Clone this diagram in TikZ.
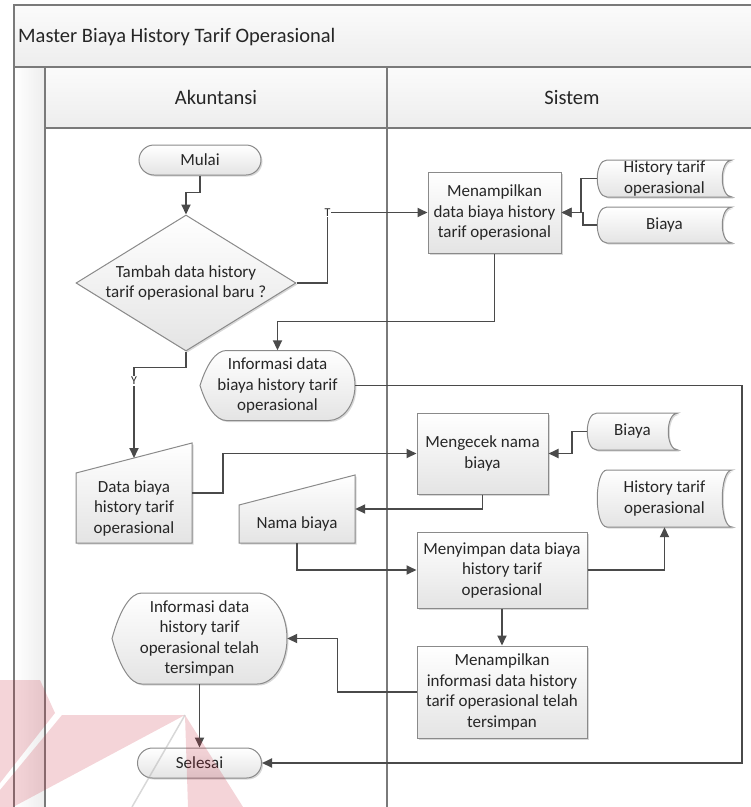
\documentclass[tikz,border=0pt]{standalone}
\usepackage{fontspec}
\setmainfont{Carlito}
\usetikzlibrary{shapes.geometric,shapes.misc,arrows.meta,calc,shadows,backgrounds}

\definecolor{laneline}{HTML}{7A7A7A}
\definecolor{edgegray}{HTML}{8A8A8A}
\definecolor{flowgray}{HTML}{4A4A4A}
\definecolor{fillbot}{HTML}{E4E4E4}
\definecolor{markred}{HTML}{C8283C}
\definecolor{inkgray}{HTML}{262626}

\pgfdeclarelayer{lanes}
\pgfsetlayers{lanes,background,main}

\tikzset{
  txt/.style={font=\fontsize{17}{20.5}\selectfont, text=inkgray, align=center, inner sep=0pt},
  headtxt/.style={font=\fontsize{20.5}{24}\selectfont, text=inkgray, inner sep=0pt},
  lbl/.style={font=\fontsize{12}{13}\selectfont, text=inkgray, fill=white, inner sep=1pt},
  dshadow/.style={drop shadow={shadow xshift=1.5pt, shadow yshift=-1.5pt, opacity=0.22, fill=black!70}},
  shapefill/.style={draw=edgegray, line width=1pt, top color=white, bottom color=fillbot},
  proc/.style={txt, shapefill, dshadow, rectangle},
  term/.style={txt, shapefill, dshadow, rounded rectangle},
  dec/.style={shapefill, dshadow, diamond, inner sep=0pt},
  hold/.style={txt, rectangle},
  arr/.style={draw=flowgray, line width=1.8pt, -{Triangle[length=10pt,width=9pt]}},
  lane/.style={draw=laneline, line width=1.4pt},
}

% stored-data outline: bulging left side, hollow right side
\newcommand\storeshape[3]{%
  \path[shapefill,dshadow]
    ([shift={(-#2/2+10,-#3/2)}]#1.center) -- ([shift={(#2/2,-#3/2)}]#1.center)
    .. controls ([shift={(#2/2-13,-#3/2)}]#1.center) and ([shift={(#2/2-13,#3/2)}]#1.center)
    .. ([shift={(#2/2,#3/2)}]#1.center) -- ([shift={(-#2/2+10,#3/2)}]#1.center)
    .. controls ([shift={(-#2/2-3,#3/2)}]#1.center) and ([shift={(-#2/2-3,-#3/2)}]#1.center)
    .. cycle;}

% display outline: pointed left end, rounded right end
\newcommand\dispshape[3]{%
  \pgfmathsetmacro\shw{#2/2}\pgfmathsetmacro\shh{#3/2}\pgfmathsetmacro\sbb{0.17*#2}%
  \path[shapefill,dshadow]
    ([shift={(-\shw,0)}]#1.center)
    .. controls ([shift={(-\shw+0.25*\sbb,-0.6*\shh)}]#1.center) and ([shift={(-\shw+0.6*\sbb,-\shh)}]#1.center)
    .. ([shift={(-\shw+\sbb,-\shh)}]#1.center) -- ([shift={(\shw-\sbb,-\shh)}]#1.center)
    .. controls ([shift={(\shw-0.45*\sbb,-\shh)}]#1.center) and ([shift={(\shw,-0.55*\shh)}]#1.center)
    .. ([shift={(\shw,0)}]#1.center)
    .. controls ([shift={(\shw,0.55*\shh)}]#1.center) and ([shift={(\shw-0.45*\sbb,\shh)}]#1.center)
    .. ([shift={(\shw-\sbb,\shh)}]#1.center) -- ([shift={(-\shw+\sbb,\shh)}]#1.center)
    .. controls ([shift={(-\shw+0.6*\sbb,\shh)}]#1.center) and ([shift={(-\shw+0.25*\sbb,0.6*\shh)}]#1.center)
    .. cycle;}

% manual-input outline: top edge rising to the right
\newcommand\manshape[4]{%
  \path[shapefill,dshadow]
    ([shift={(-#2/2,-#3/2+#4)}]#1.center) coordinate (#1-tl)
    -- ([shift={(#2/2,-#3/2)}]#1.center) coordinate (#1-tr)
    -- ([shift={(#2/2,#3/2)}]#1.center)
    -- ([shift={(-#2/2,#3/2)}]#1.center) -- cycle;}

\begin{document}
\begin{tikzpicture}[x=1pt,y=-1pt]
\useasboundingbox (0,0) rectangle (751,807);

% swimlane frame
\begin{pgfonlayer}{lanes}
  \fill[top color=gray!3, bottom color=gray!14] (14,5) rectangle (751,67);
  \fill[top color=gray!3, bottom color=gray!14] (45,67) rectangle (751,128);
  \fill[left color=white, right color=gray!14] (14,67) rectangle (45,807);
  \draw[lane] (14,807) -- (14,5) -- (751,5);
  \draw[lane] (14,67) -- (751,67);
  \draw[lane] (45,128) -- (751,128);
  \draw[lane] (45,67) -- (45,807);
  \draw[lane] (387,67) -- (387,807);
\end{pgfonlayer}

\node[headtxt, anchor=west] (title) at (18,37) {Master Biaya History Tarif Operasional};
\node[headtxt] (laneA) at (216,97.5) {Akuntansi};
\node[headtxt] (laneS) at (572,97.5) {Sistem};

% nodes
\node[term, minimum width=122, minimum height=30] (start) at (200,160) {Mulai};
\node[dec, minimum width=220, minimum height=136] (dec) at (186,283) {};
\node[txt] (dect) at (186,283) {Tambah data history\\tarif operasional baru ?};

\node[proc, minimum width=133, minimum height=81] (p1) at (494.5,212.5)
  {Menampilkan\\data biaya history\\tarif operasional};
\node[hold, minimum width=135, minimum height=37] (s1) at (664.5,178.5) {History tarif\\operasional};
\node[hold, minimum width=135, minimum height=36] (s2) at (664.5,225) {Biaya};

\node[hold, minimum width=155, minimum height=70] (i1) at (277.5,385.5)
  {Informasi data\\biaya history tarif\\operasional};

\node[hold, minimum width=116, minimum height=100] (db) at (134,493) {};
\node[txt] (dbt) at (134,508) {Data biaya\\history tarif\\operasional};

\node[proc, minimum width=131, minimum height=81] (p2) at (482.5,453.5) {Mengecek nama\\biaya};
\node[hold, minimum width=91, minimum height=37] (s3) at (632.5,431.5) {Biaya};

\node[hold, minimum width=116, minimum height=68] (nb) at (297,509) {};
\node[txt] (nbt) at (297,524) {Nama biaya};

\node[proc, minimum width=170, minimum height=76] (p3) at (502,570)
  {Menyimpan data biaya\\history tarif\\operasional};
\node[hold, minimum width=135, minimum height=57] (s4) at (664.5,498.5) {History tarif\\operasional};

\node[proc, minimum width=170, minimum height=92] (p4) at (502,692)
  {Menampilkan\\informasi data history\\tarif operasional telah\\tersimpan};

\node[hold, minimum width=175, minimum height=91] (i2) at (199.5,638.5)
  {Informasi data\\history tarif\\operasional telah\\tersimpan};

\node[term, minimum width=124, minimum height=30] (end) at (199.5,763) {Selesai};

% special outlines behind their texts
\begin{pgfonlayer}{background}
  \storeshape{s1}{135}{37}
  \storeshape{s2}{135}{36}
  \storeshape{s3}{91}{37}
  \storeshape{s4}{135}{57}
  \dispshape{i1}{155}{70}
  \dispshape{i2}{175}{91}
  \manshape{db}{116}{100}{30}
  \manshape{nb}{116}{68}{30}
\end{pgfonlayer}

% connectors
\coordinate (rightrail) at (742,0);
\coordinate (dbin) at ($(db-tl)!0.5!(db-tr)$);

\draw[arr] (start.south) -- ++(0,17) -| (dec.north);
\draw[arr] (dec.east) -- ++(31,0) coordinate (tk) |- (p1.west);
\node[lbl] (tlab) at (tk |- p1.west) {T};
\draw[arr] (s1.west) -- ++(-16,0) |- (p1.east);
\draw[arr] (s2.west) -- ++(-14,0) |- (p1.east);
\draw[arr] (p1.south) -- ++(0,68) -| (i1.north);
\draw[arr] (i1.east) -- (i1.east -| rightrail) |- (end.east);
\draw[arr] (dec.south) -- ++(0,16) -| (dbin);
\node[lbl] (ylab) at (134,381) {Y};
\draw[arr] (db.east) -- ++(31,0) |- (p2.west);
\draw[arr] (s3.west) -- ++(-15,0) |- (p2.east);
\draw[arr] (p2.south) |- (nb.east);
\draw[arr] (nb.south) |- (p3.west);
\draw[arr] (p3.east) -| (s4.south);
\draw[arr] (p3.south) -- (p4.north);
\draw[arr] (p4.west) -- ++(-79,0) |- (i2.east);
\draw[arr] (i2.south) -- (end.north);

% faint logo mark along the lower edge
\fill[markred, opacity=0.2] (0,680) -- (40,680) -- (55,713) -- (0,783) -- cycle;
\fill[markred, opacity=0.2] (62,715) -- (185,715) -- (13,807) -- (0,807) -- (0,790) -- cycle;
\fill[markred, opacity=0.2] (185,715) -- (243,807) -- (188,807) -- cycle;
\draw[gray!60, opacity=0.5, line width=1.5pt] (185,715) -- (132,807);
\end{tikzpicture}
\end{document}
